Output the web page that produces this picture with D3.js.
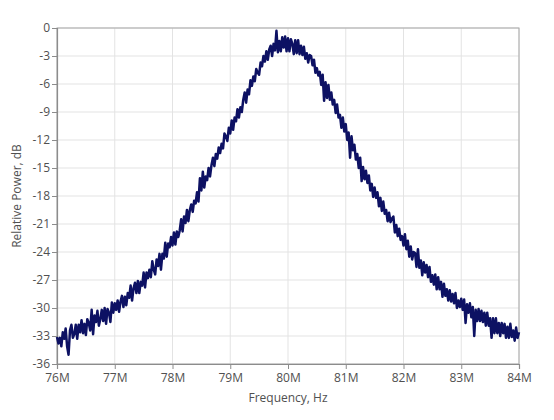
<!DOCTYPE html>
<html>
<head>
<meta charset="utf-8">
<script src="https://cdn.jsdelivr.net/npm/d3@7"></script>
<style>
  body { margin: 0; background: #fff; }
  svg text { font-family: 'Open Sans', sans-serif; }
</style>
</head>
<body>
<svg id="chart" width="554" height="420"></svg>
<script>
// sweep: 76 MHz .. 84 MHz, 321 samples (25 kHz step)
const sweepStart = 76e6
const sweepStop = 84e6
const powerDb = [
  -33.1, -33.8, -33.2, -34.1, -32.6, -33.3, -32.2, -34.1,
  -35.0, -32.4, -31.8, -33.2, -32.8, -31.8, -33.3, -31.8,
  -32.6, -31.3, -32.7, -31.7, -32.9, -31.2, -31.6, -32.4,
  -30.2, -32.8, -30.8, -31.5, -30.3, -31.9, -31.2, -30.2,
  -31.4, -30.0, -31.7, -30.1, -30.5, -31.5, -29.4, -30.5,
  -29.5, -30.2, -29.2, -30.4, -29.3, -28.7, -29.9, -28.8,
  -29.7, -28.4, -28.9, -27.6, -29.2, -27.9, -27.3, -28.4,
  -27.1, -28.4, -27.2, -27.6, -26.2, -27.8, -26.2, -26.8,
  -25.9, -26.7, -25.0, -25.9, -26.4, -24.8, -25.5, -24.2,
  -25.9, -24.2, -24.7, -23.0, -24.5, -23.1, -23.5, -22.4,
  -23.3, -21.9, -23.2, -21.8, -22.4, -21.7, -20.5, -21.8,
  -20.2, -20.9, -19.5, -20.7, -19.5, -18.9, -19.7, -18.5,
  -18.8, -17.6, -18.6, -16.1, -17.4, -15.4, -17.1, -15.9,
  -16.3, -15.0, -15.9, -14.7, -13.9, -14.8, -13.5, -14.0,
  -12.8, -13.4, -12.4, -12.9, -11.3, -11.6, -12.1, -10.7,
  -11.3, -9.9, -10.9, -9.6, -10.0, -8.7, -9.6, -8.5,
  -9.0, -7.7, -6.9, -8.0, -6.6, -7.1, -5.6, -6.2,
  -5.2, -5.7, -4.4, -4.8, -5.0, -3.7, -4.1, -3.0,
  -3.6, -2.5, -3.4, -2.3, -1.9, -3.0, -1.7, -2.4,
  -0.3, -2.6, -1.4, -2.5, -1.0, -2.1, -0.9, -2.5,
  -1.1, -2.5, -1.2, -1.7, -2.8, -1.3, -2.7, -1.3,
  -2.8, -1.9, -2.9, -2.0, -3.3, -2.7, -3.7, -2.9,
  -3.0, -4.0, -3.4, -4.8, -4.3, -5.1, -4.7, -6.1,
  -5.0, -7.8, -5.8, -7.5, -6.1, -7.7, -6.9, -8.2,
  -7.7, -9.1, -8.2, -9.6, -9.3, -10.7, -9.6, -11.1,
  -10.3, -12.0, -11.2, -13.9, -11.6, -13.1, -12.5, -14.1,
  -13.5, -15.0, -13.9, -16.4, -14.9, -16.2, -15.3, -16.6,
  -15.8, -17.4, -16.7, -18.1, -17.1, -18.2, -17.6, -19.1,
  -18.2, -19.6, -18.6, -19.9, -19.5, -20.7, -19.8, -20.8,
  -20.4, -20.2, -21.9, -21.1, -22.3, -21.5, -22.7, -22.3,
  -23.3, -22.1, -23.7, -22.8, -24.5, -23.4, -24.8, -24.0,
  -24.1, -25.6, -23.7, -25.7, -24.9, -26.5, -25.1, -26.2,
  -25.4, -26.7, -25.6, -27.2, -26.5, -27.5, -26.4, -28.0,
  -26.7, -28.0, -27.2, -28.8, -27.4, -28.7, -28.0, -29.2,
  -28.1, -29.3, -28.5, -29.5, -28.4, -30.0, -29.2, -29.9,
  -29.0, -30.2, -29.1, -31.6, -29.6, -30.5, -29.5, -31.0,
  -29.9, -33.0, -30.2, -31.4, -30.1, -31.4, -30.3, -31.5,
  -30.5, -31.9, -30.5, -31.9, -31.1, -33.2, -31.1, -32.7,
  -31.1, -32.7, -31.6, -33.0, -31.6, -32.7, -31.7, -33.2,
  -32.0, -33.2, -31.7, -33.1, -32.4, -33.5, -32.1, -33.2,
  -32.6
]
const xTicks = [76e6, 77e6, 78e6, 79e6, 80e6, 81e6, 82e6, 83e6, 84e6]
const yTicks = [0, -3, -6, -9, -12, -15, -18, -21, -24, -27, -30, -33, -36]
const xTitle = 'Frequency, Hz'
const yTitle = 'Relative Power, dB'

const svg = d3.select('#chart')
const margin = { left: 57, right: 35, top: 28, bottom: 56 }
const width = 554 - margin.left - margin.right
const height = 420 - margin.top - margin.bottom

const n = powerDb.length
const freqs = d3.range(n).map(i => sweepStart + i * (sweepStop - sweepStart) / (n - 1))
const data = freqs.map((f, i) => ({ f: f, p: powerDb[i] }))

const x = d3.scaleLinear().domain([sweepStart, sweepStop]).range([0, width])
const y = d3.scaleLinear().domain([-36, 0]).range([height, 0])

const g = svg.append('g').attr('transform', 'translate(' + margin.left + ',' + margin.top + ')')

// grid
g.append('g')
  .selectAll('line')
  .data(xTicks)
  .enter().append('line')
  .attr('x1', d => x(d)).attr('x2', d => x(d))
  .attr('y1', 0).attr('y2', height)
  .attr('stroke', '#e3e3e3')
g.append('g')
  .selectAll('line')
  .data(yTicks)
  .enter().append('line')
  .attr('x1', 0).attr('x2', width)
  .attr('y1', d => y(d)).attr('y2', d => y(d))
  .attr('stroke', '#e3e3e3')

// frame
g.append('rect')
  .attr('width', width).attr('height', height)
  .attr('fill', 'none')
  .attr('stroke', '#a8a8a8')

const fmtM = d => (d / 1e6) + 'M'

const xAxis = g.append('g')
  .attr('transform', 'translate(0,' + height + ')')
  .call(d3.axisBottom(x).tickValues(xTicks).tickFormat(fmtM).tickSize(5).tickPadding(4))
const yAxis = g.append('g')
  .call(d3.axisLeft(y).tickValues(yTicks).tickFormat(d => d === 0 ? '0' : String(d)).tickSize(5).tickPadding(2))

;[xAxis, yAxis].forEach(a => {
  a.select('.domain').attr('stroke', '#8c8c8c').attr('stroke-width', 1.2)
  a.selectAll('.tick line').attr('stroke', '#8c8c8c')
  a.selectAll('.tick text')
    .attr('fill', '#505050')
    .style('font-size', '12px')
    .style('font-family', "'Open Sans', sans-serif")
})

// trace
const line = d3.line()
  .x(d => x(d.f))
  .y(d => y(d.p))

g.append('path')
  .datum(data)
  .attr('fill', 'none')
  .attr('stroke', '#0d1163')
  .attr('stroke-width', 2.5)
  .attr('stroke-linejoin', 'round')
  .attr('d', line)

// titles
svg.append('text')
  .attr('x', margin.left + width / 2)
  .attr('y', 402)
  .attr('text-anchor', 'middle')
  .attr('fill', '#505050')
  .style('font-size', '12px')
  .text(xTitle)

svg.append('text')
  .attr('transform', 'translate(21,' + (margin.top + height / 2) + ') rotate(-90)')
  .attr('text-anchor', 'middle')
  .attr('fill', '#505050')
  .style('font-size', '12px')
  .text(yTitle)
</script>
</body>
</html>
